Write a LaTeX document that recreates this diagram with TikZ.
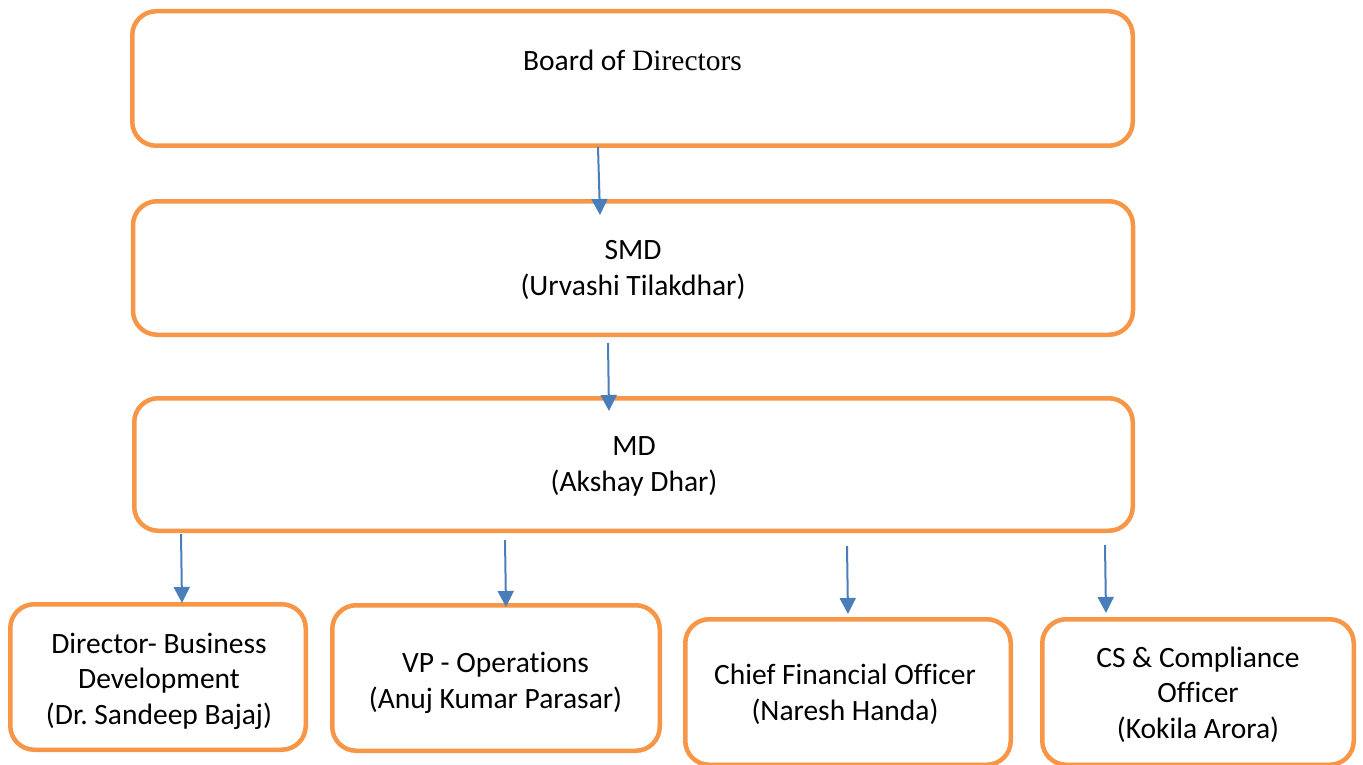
\documentclass[tikz,border=0pt]{standalone}
\usepackage{fontspec}
\setmainfont[Ligatures=NoCommon]{Carlito}
\newfontfamily\tnr{Liberation Serif}
\usetikzlibrary{arrows.meta}
\definecolor{boxorange}{HTML}{F79646}
\definecolor{arrblue}{HTML}{4A7EBB}
\frenchspacing
\begin{document}
\begin{tikzpicture}[x=1pt,y=-1pt,
  box/.style={draw=boxorange, line width=4.5pt, rounded corners=24pt, inner sep=0pt, fill=white},
  txt/.style={align=center, font=\fontsize{29.5}{35.5}\selectfont, inner sep=0pt, anchor=base},
  arr/.style={draw=arrblue, line width=2pt, -{Triangle[length=16pt,width=16pt]}}]
\useasboundingbox (0,0) rectangle (1363,765);
% boxes
\node[box, minimum width=1000.5pt, minimum height=134.5pt] (bod) at (632.5,78.5) {};
\node[box, minimum width=1000pt, minimum height=133.5pt] (smd) at (633,268) {};
\node[box, minimum width=998.5pt, minimum height=132.5pt] (md) at (633.5,464.5) {};
\node[box, minimum width=295.5pt, minimum height=145.5pt] (b1) at (158,677) {};
\node[box, minimum width=327.5pt, minimum height=145.5pt] (b2) at (496,678) {};
\node[box, minimum width=325.5pt, minimum height=145.5pt] (b3) at (848,692) {};
\node[box, minimum width=311.5pt, minimum height=145.5pt] (b4) at (1198,692) {};
% texts (anchor = baseline of the last line)
\node[txt] (tbod) at (632.5,71) {Board of {\tnr Directors}};
\node[txt] (tsmd) at (633,295) {SMD\\(Urvashi Tilakdhar)};
\node[txt] (tmd) at (634,491) {MD\\(Akshay Dhar)};
\node[txt] (tb1) at (159,724) {Director- Business\\Development\\(Dr. Sandeep Bajaj)};
\node[txt] (tb2) at (495.5,708) {VP - Operations\\(Anuj Kumar Parasar)};
\node[txt] (tb3) at (845,720) {Chief Financial Officer\\(Naresh Handa)};
\node[txt] (tb4) at (1198,738) {CS \& Compliance\\Officer\\(Kokila Arora)};
% arrows
\coordinate (a1s) at (598,147); \coordinate (a1e) at (600,215);
\coordinate (a2s) at (608,343); \coordinate (a2e) at (609,411);
\coordinate (a3s) at (181,534); \coordinate (a3e) at (182,603);
\coordinate (a4s) at (505,540); \coordinate (a4e) at (506,607);
\coordinate (a5s) at (847,546); \coordinate (a5e) at (848,614);
\coordinate (a6s) at (1105,545); \coordinate (a6e) at (1106,613);
\draw[arr] (a1s) -- (a1e);
\draw[arr] (a2s) -- (a2e);
\draw[arr] (a3s) -- (a3e);
\draw[arr] (a4s) -- (a4e);
\draw[arr] (a5s) -- (a5e);
\draw[arr] (a6s) -- (a6e);
\end{tikzpicture}
\end{document}
